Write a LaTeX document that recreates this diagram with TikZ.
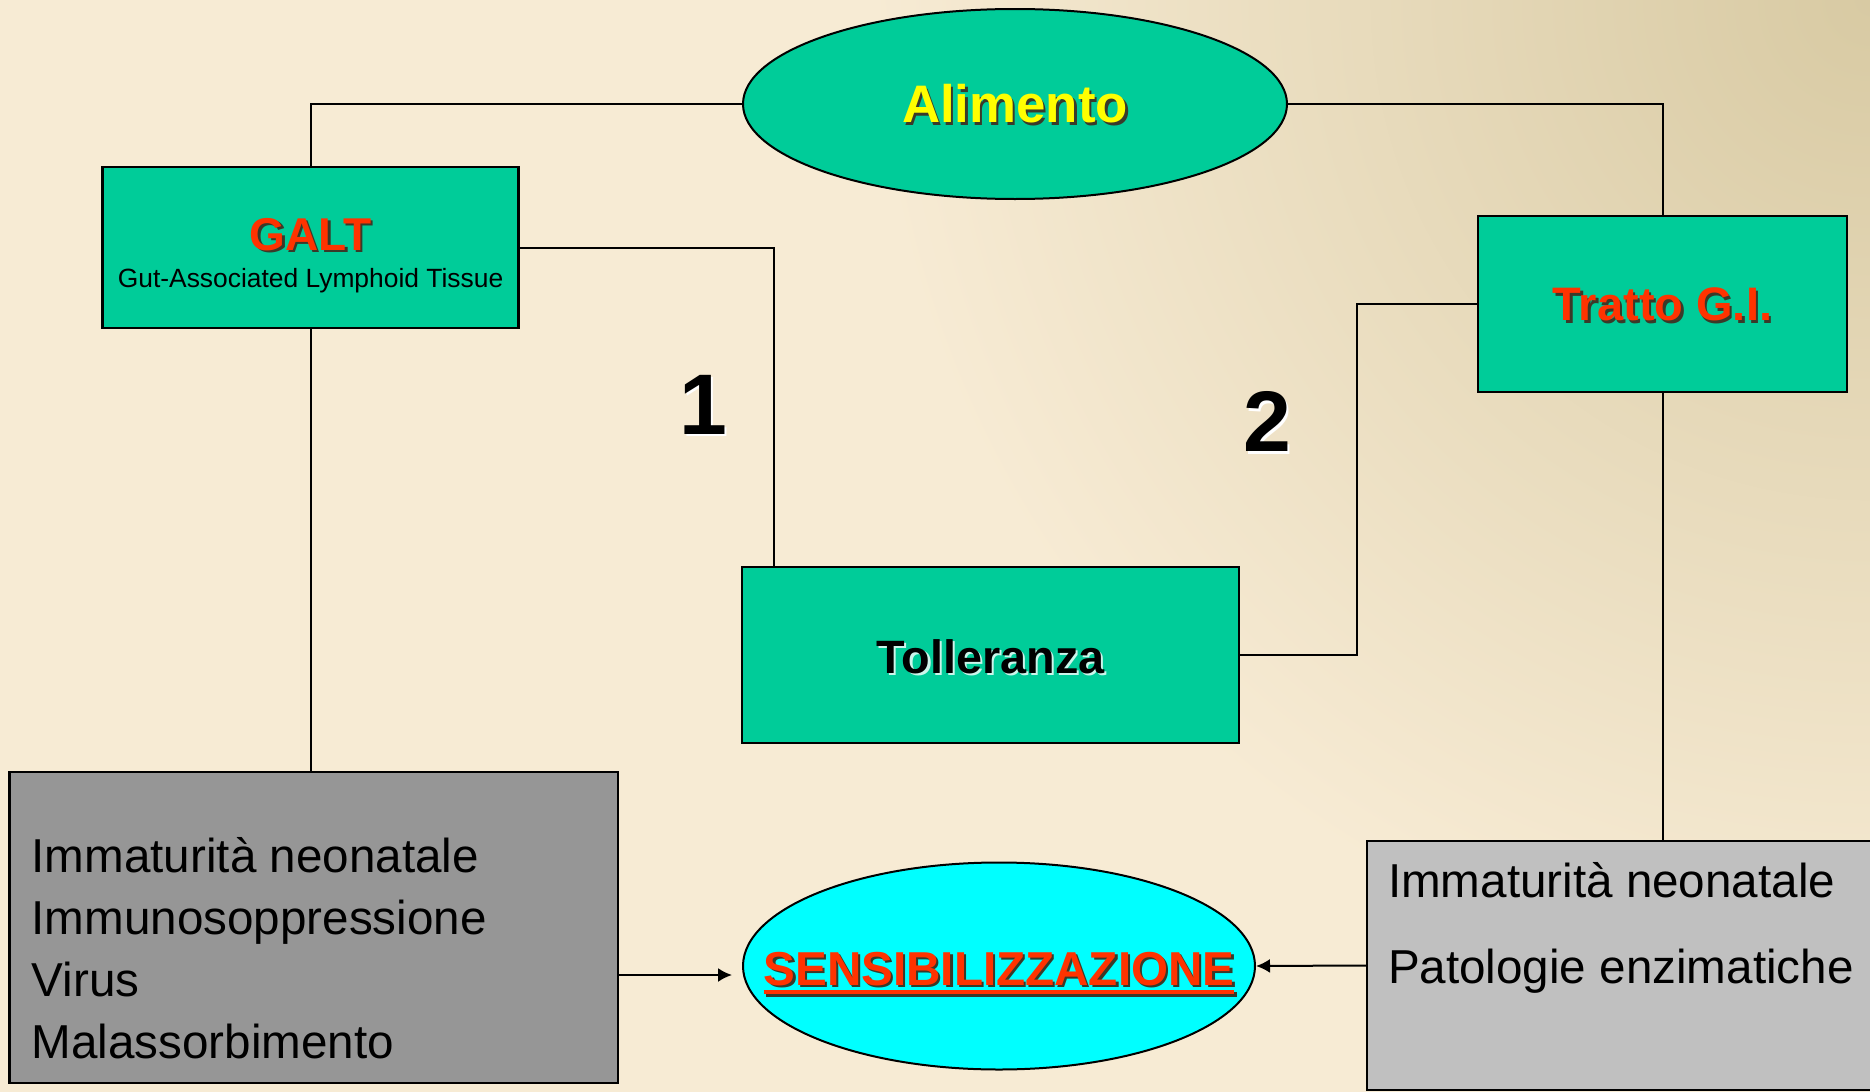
\documentclass[tikz,border=0pt]{standalone}
\usepackage{fontspec}
\setmainfont{Liberation Sans}
\usetikzlibrary{shapes.geometric,arrows.meta}
\definecolor{tealF}{HTML}{00CC99}
\definecolor{cyanF}{HTML}{00FFFF}
\definecolor{grayF}{HTML}{969696}
\definecolor{lgrayF}{HTML}{C0C0C0}
\definecolor{redT}{HTML}{FF3300}
\definecolor{yelT}{HTML}{FFFF00}
\definecolor{bgA}{HTML}{F7EBD4}
\definecolor{bgB}{HTML}{D8CAA3}
\definecolor{shadowD}{HTML}{3A3A2A}
\newcommand\shd[3]{\rlap{\kern1.2pt\raisebox{-1.2pt}{\textcolor{#1}{#3}}}\textcolor{#2}{#3}}
\newcommand\ulsens[1]{\setbox0=\hbox{#1}\rlap{\rule[-4.6pt]{\wd0}{2.3pt}}\box0}
\newcommand\fsz[1]{\fontsize{#1}{1.2\dimexpr#1\relax}\selectfont}
\begin{document}
\begin{tikzpicture}[x=0.5pt,y=-0.5pt,
  conn/.style={draw=black, line width=1pt},
  boxT/.style={draw=black, line width=1.3pt, fill=tealF, rectangle, inner sep=0pt},
  ellT/.style={draw=black, line width=1pt, ellipse, inner sep=0pt},
  graybox/.style={draw=black, line width=1.2pt, rectangle, inner sep=0pt},
  txt/.style={inner sep=0pt, outer sep=0pt},
  arr/.style={conn, -{Latex[length=7pt,width=7pt]}}]
\useasboundingbox (0,0) rectangle (1870,1092);
% background
\fill[bgA] (0,0) rectangle (1870,1092);
\begin{scope}
  \clip (0,0) rectangle (1870,1092);
  \shade[inner color=bgB, outer color=bgA] (1870,0) circle (1000);
\end{scope}

% nodes
\node[ellT, fill=tealF, minimum width=272pt, minimum height=95pt] (alim) at (1015,104) {};
\node[txt] (alimT) at (1015,105) {\fsz{26.4pt}\bfseries\shd{shadowD}{yelT}{Alimento}};

\node[boxT, minimum width=208pt, minimum height=80.5pt] (galt) at (310.5,247.5) {};
\node[txt, anchor=base] (galtT) at (310.5,250) {\fsz{23pt}\bfseries\shd{shadowD}{redT}{GALT}};
\node[txt, anchor=base] (galtS) at (310.5,287) {\fsz{13.2pt}Gut-Associated Lymphoid Tissue};

\node[boxT, minimum width=184.5pt, minimum height=88pt] (tratto) at (1662.5,304) {};
\node[txt] (trattoT) at (1662.5,306) {\fsz{23.5pt}\bfseries\shd{shadowD}{redT}{Tratto G.I.}};

\node[boxT, minimum width=248.5pt, minimum height=88pt] (toll) at (990.5,655) {};
\node[txt] (tollT) at (990.5,658) {\fsz{23.4pt}\bfseries\shd{white!80!tealF}{black}{Tolleranza}};

\node[graybox, fill=grayF, minimum width=304.25pt, minimum height=155.5pt] (lbox) at (313.75,927.5) {};
\node[txt, anchor=base west] (l1) at (31.7,872) {\fsz{23.8pt}Immaturità neonatale};
\node[txt, anchor=base west] (l2) at (31.7,934) {\fsz{23.8pt}Immunosoppressione};
\node[txt, anchor=base west] (l3) at (31.7,996) {\fsz{23.8pt}Virus};
\node[txt, anchor=base west] (l4) at (31.7,1058) {\fsz{23.8pt}Malassorbimento};

\node[graybox, fill=lgrayF, minimum width=256.5pt, minimum height=124.5pt] (rbox) at (1623.5,965.5) {};
\node[txt, anchor=base west] (r1) at (1388,897) {\fsz{23.8pt}Immaturità neonatale};
\node[txt, anchor=base west] (r2) at (1388,983) {\fsz{23.8pt}Patologie enzimatiche};

\node[ellT, fill=cyanF, minimum width=256pt, minimum height=103.5pt] (sens) at (999,966) {};
\node[txt, anchor=base] (sensT) at (999,985) {\fsz{23.8pt}\bfseries\shd{shadowD}{redT}{\ulsens{SENSIBILIZZAZIONE}}};

\node[txt] (one) at (703,406) {\fsz{43pt}\bfseries\shd{white}{black}{1}};
\node[txt] (two) at (1267,423) {\fsz{43pt}\bfseries\shd{white}{black}{2}};

% connectors
\draw[conn] (alim.west) -| (galt.north);
\draw[conn] (alim.east) -| (tratto.north);
\draw[conn] (galt.east) -| ([xshift=16.5pt]toll.north west);
\draw[conn] (tratto.west) -- ++(-120,0) |- (toll.east);
\draw[conn] (galt.south) -- (galt.south |- lbox.north);
\draw[conn] (tratto.south) -- (tratto.south |- rbox.north);
\draw[arr, shorten >=5pt] (lbox.east |- 0,975) -- (sens.west |- 0,975);
\draw[arr] (rbox.west) -- (sens.east);
\end{tikzpicture}
\end{document}
